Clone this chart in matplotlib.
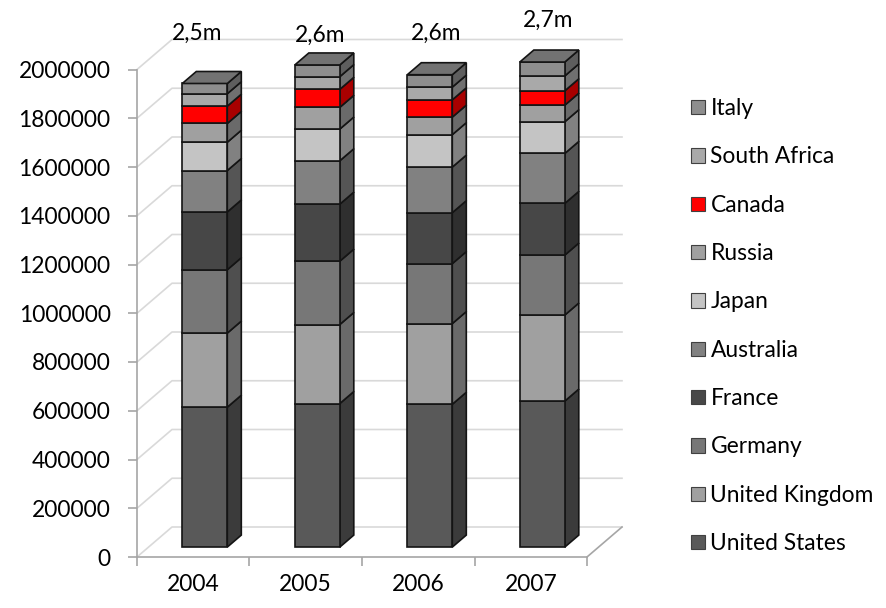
import matplotlib
matplotlib.use("Agg")
import matplotlib.pyplot as plt
from matplotlib.patches import Polygon, Patch
from matplotlib.lines import Line2D
from matplotlib.ticker import FixedLocator, NullFormatter

plt.rcParams["font.family"] = ["Lato", "DejaVu Sans"]

# ---- data -------------------------------------------------------------
years = ["2004", "2005", "2006", "2007"]
total_labels = ["2,5m", "2,6m", "2,6m", "2,7m"]

countries = ["United States", "United Kingdom", "Germany", "France",
             "Australia", "Japan", "Russia", "Canada", "South Africa", "Italy"]

united_states = [574000, 589000, 586000, 599000]
united_kingdom = [304000, 324000, 331000, 353000]
germany = [260000, 260000, 246000, 246000]
france = [237000, 234000, 209000, 212000]
australia = [170000, 178000, 187000, 205000]
japan = [116000, 130000, 133000, 130000]
russia = [77000, 89000, 72000, 68000]
canada = [71000, 74000, 71000, 59000]
south_africa = [51000, 52000, 52000, 61000]
italy = [42000, 48000, 51000, 57000]

series = [united_states, united_kingdom, germany, france, australia,
          japan, russia, canada, south_africa, italy]

colors = ["#595959", "#a0a0a0", "#777777", "#474747", "#818181",
          "#c4c4c4", "#a0a0a0", "#ff0000", "#a9a9a9", "#8e8e8e"]

y_ticks = list(range(0, 2000001, 200000))


def shade(hex_color, k):
    h = hex_color.lstrip("#")
    r, g, b = (int(h[i:i + 2], 16) / 255 for i in (0, 2, 4))
    return (r * k, g * k, b * k)


# ---- figure / axes (front plane of the 3-D box) -------------------------
W, H = 887, 608
FS = 16.4
fig = plt.figure(figsize=(W / 100, H / 100), dpi=100)
ax = fig.add_axes([137 / W, (H - 557) / H, 450 / W, 487.5 / H])
n = len(years)
ax.set_xlim(0, n)
ax.set_ylim(0, 2000000)

# oblique depth vector in data units (about 35 px right, 30 px up)
DX = 35 / 112.5
DY = 30 / 487.5 * 2000000


def proj(x, y, f):
    return (x + f * DX, y + f * DY)


grid_col = "#d9d9d9"
axis_col = "#a6a6a6"

# back wall + left wall gridlines
for v in y_ticks:
    xs = [0, DX, n + DX]
    ys = [v, v + DY, v + DY]
    ax.add_line(Line2D(xs, ys, color=grid_col, lw=1.2, clip_on=False, zorder=1))

# floor right edge
ax.add_line(Line2D([n, n + DX], [0, DY], color=axis_col, lw=1.2,
                   clip_on=False, zorder=1))

# ---- stacked 3-D columns ------------------------------------------------
F0, F1 = 0.33, 0.73
half = 0.2
edge = "#141414"
for i in range(n):
    xc = i + 0.5
    x0, x1 = xc - half, xc + half
    base = 0
    for s, (vals, col) in enumerate(zip(series, colors)):
        top = base + vals[i]
        front = [proj(x0, base, F0), proj(x1, base, F0),
                 proj(x1, top, F0), proj(x0, top, F0)]
        side = [proj(x1, base, F0), proj(x1, base, F1),
                proj(x1, top, F1), proj(x1, top, F0)]
        ax.add_patch(Polygon(side, closed=True, facecolor=shade(col, 0.66),
                             edgecolor=edge, lw=1.2, clip_on=False, zorder=3))
        ax.add_patch(Polygon(front, closed=True, facecolor=col,
                             edgecolor=edge, lw=1.2, clip_on=False, zorder=3))
        if s == len(series) - 1:
            lid = [proj(x0, top, F0), proj(x1, top, F0),
                   proj(x1, top, F1), proj(x0, top, F1)]
            ax.add_patch(Polygon(lid, closed=True, facecolor=shade(col, 0.8),
                                 edgecolor=edge, lw=1.2, clip_on=False, zorder=3))
        base = top

# ---- axes styling -------------------------------------------------------
for side_name in ("top", "right"):
    ax.spines[side_name].set_visible(False)
for side_name in ("left", "bottom"):
    ax.spines[side_name].set_color(axis_col)
    ax.spines[side_name].set_linewidth(1.2)
ax.patch.set_visible(False)

ax.set_yticks(y_ticks)
ax.set_yticklabels([str(v) for v in y_ticks])
ax.tick_params(axis="y", length=6.5, width=1.2, color=axis_col, pad=12.5,
               labelsize=FS, labelcolor="black")

ax.xaxis.set_major_locator(FixedLocator(range(n + 1)))
ax.xaxis.set_major_formatter(NullFormatter())
ax.xaxis.set_minor_locator(FixedLocator([i + 0.5 for i in range(n)]))
ax.set_xticklabels(years, minor=True)
ax.tick_params(axis="x", which="major", length=6.5, width=1.2, color=axis_col)
ax.tick_params(axis="x", which="minor", length=0, pad=12, labelsize=FS,
               labelcolor="black")

# totals written above the columns
label_pos = [(197, 33), (320, 35), (436, 33), (548, 20)]
for txt, (px, py) in zip(total_labels, label_pos):
    fig.text(px / W, 1 - py / H, txt, ha="center", va="center", fontsize=FS)

# legend, last series on top
handles = [Patch(facecolor=c, edgecolor="#404040", lw=0.8)
           for c in colors][::-1]
fig.legend(handles, countries[::-1], loc="upper left",
           bbox_to_anchor=(682 / W, 1 - 89 / H), frameon=False, fontsize=FS,
           handlelength=0.6, handleheight=0.6, handletextpad=0.25,
           labelspacing=1.2, borderaxespad=0)

fig.savefig("out.png", dpi=100)
